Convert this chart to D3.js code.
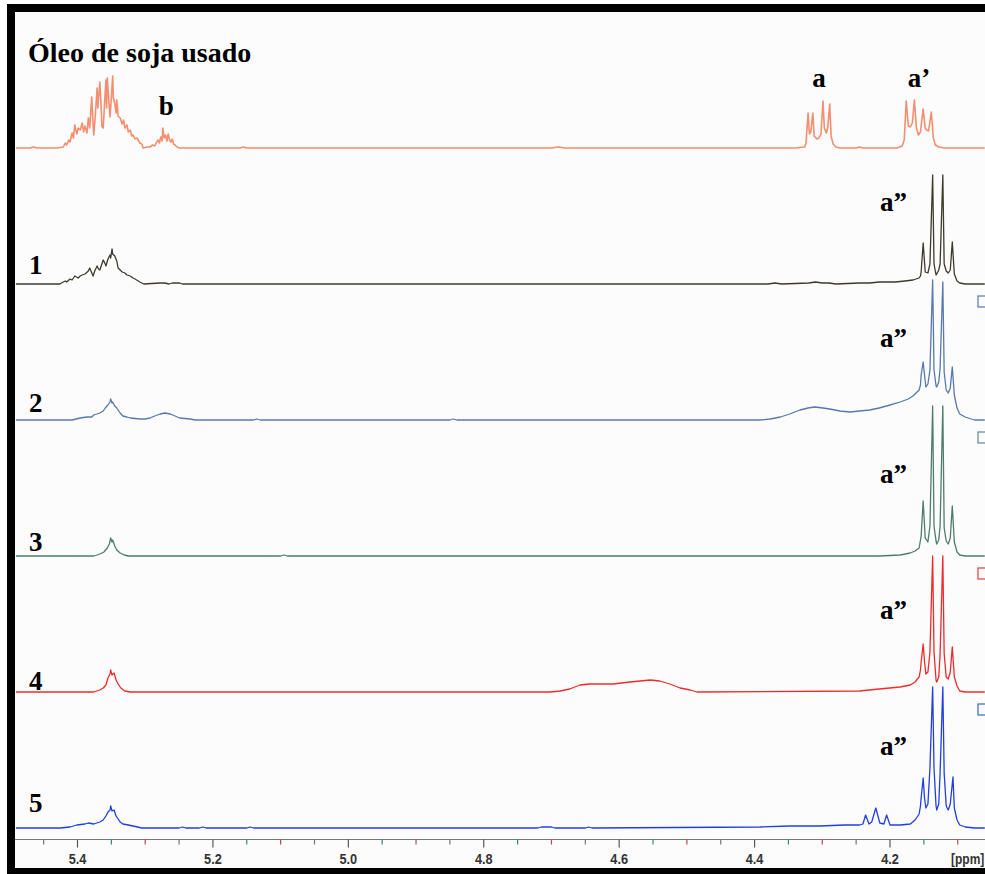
<!DOCTYPE html>
<html>
<head>
<meta charset="utf-8">
<script src="https://cdn.jsdelivr.net/npm/d3@7"></script>
<style>
  html, body { margin: 0; padding: 0; background: #ffffff; }
  svg { display: block; }
</style>
</head>
<body>
<svg id="chart" width="985" height="874"></svg>
<script>
// ---------------- DATA (ppm, relative intensity) ----------------
const traceNames = ["Óleo de soja usado", "1", "2", "3", "4", "5"];
const tickValues = [5.45,5.40,5.35,5.30,5.25,5.20,5.15,5.10,5.05,5.00,4.95,4.90,4.85,4.80,4.75,4.70,4.65,4.60,4.55,4.50,4.45,4.40,4.35,4.30,4.25,4.20,4.15,4.10];
const tickLabels = ["5.4", "5.2", "5.0", "4.8", "4.6", "4.4", "4.2"];
const tickLabelValues = [5.4, 5.2, 5.0, 4.8, 4.6, 4.4, 4.2];
const axisUnit = "[ppm]";

const oleoSpectrum = [
  [5.491,0],[5.470,0],[5.465,1],[5.460,0],[5.430,0],[5.421,1],[5.418,5],[5.416,3],[5.413,8],[5.411,6],[5.408,15],[5.406,10],
  [5.404,23],[5.401,14],[5.399,20],[5.396,18],[5.393,25],[5.391,16],[5.389,22],[5.386,15],[5.384,30],[5.382,20],
  [5.379,51],[5.377,24],[5.376,13],[5.374,30],[5.371,60],[5.370,40],[5.367,66],[5.365,40],[5.364,22],[5.362,20],
  [5.360,45],[5.358,68],[5.357,40],[5.356,70],[5.354,50],[5.352,31],[5.350,50],[5.348,72],[5.347,50],[5.345,45],
  [5.343,35],[5.342,48],[5.340,32],[5.337,30],[5.334,24],[5.332,28],[5.330,20],[5.327,23],[5.325,16],[5.322,18],
  [5.320,12],[5.318,13],[5.315,9],[5.312,10],[5.308,5],[5.305,4],[5.303,0],[5.297,1],[5.293,1],[5.289,3],[5.286,2],
  [5.283,6],[5.281,8],[5.279,5],[5.277,11],[5.275,7],[5.274,20],[5.272,10],[5.270,13],[5.268,7],[5.266,14],[5.264,8],
  [5.262,6],[5.260,9],[5.258,4],[5.256,3],[5.253,1],[5.249,0],[5.160,0],[5.155,1],[5.150,0],[4.700,0],[4.690,1],[4.680,0],
  [4.340,0],[4.326,1],[4.324,5],[4.321,35],[4.319,14],[4.317,16],[4.314,35],[4.312,12],[4.308,9],[4.305,10],[4.302,14],
  [4.299,47],[4.297,20],[4.294,15],[4.292,20],[4.289,44],[4.287,12],[4.284,4],[4.280,1],[4.274,0],[4.250,0],[4.245,1],[4.240,0],
  [4.190,0],[4.182,2],[4.179,8],[4.176,47],[4.173,22],[4.170,21],[4.167,25],[4.164,48],[4.161,20],[4.158,13],[4.155,16],
  [4.151,39],[4.148,20],[4.146,18],[4.143,17],[4.139,36],[4.136,10],[4.133,3],[4.128,1],[4.120,0],[4.060,0]
];

const spectrum1 = [
  [5.491,0],[5.426,0],[5.421,2],[5.418,3],[5.416,2],[5.411,5],[5.408,4],[5.404,8],[5.399,6],[5.396,8],[5.393,9],
  [5.389,10],[5.384,13],[5.382,16],[5.377,8],[5.374,14],[5.371,18],[5.369,15],[5.367,14],[5.362,24],[5.359,20],
  [5.358,18],[5.355,25],[5.352,29],[5.351,26],[5.349,35],[5.348,30],[5.345,28],[5.342,23],[5.340,16],[5.337,14],
  [5.334,12],[5.330,11],[5.327,9],[5.322,8],[5.318,6],[5.315,5],[5.308,2],[5.302,0],[5.278,1],[5.271,1],[5.265,0],
  [5.260,1],[5.249,1],[5.245,0],[4.380,0],[4.370,1],[4.360,0],[4.320,1],[4.310,2],[4.300,1],[4.290,1],[4.280,0],
  [4.245,1],[4.230,1],[4.216,2],[4.192,2],[4.178,3],[4.166,4],[4.157,6],[4.155,8],[4.154,12],[4.151,41],[4.148,12],
  [4.144,11],[4.141,20],[4.137,109],[4.135,20],[4.132,9],[4.131,10],[4.128,14],[4.126,20],[4.122,109],[4.120,20],
  [4.117,13],[4.114,11],[4.111,14],[4.108,42],[4.105,10],[4.101,3],[4.097,1],[4.089,0],[4.060,0]
];

const spectrum2 = [
  [5.491,0],[5.408,0],[5.396,2],[5.386,3],[5.379,3],[5.376,5],[5.367,7],[5.362,9],[5.359,12],[5.355,15],[5.352,18],
  [5.351,21],[5.349,17],[5.348,18],[5.345,14],[5.342,12],[5.337,7],[5.333,4],[5.327,3],[5.322,2],[5.308,1],[5.300,1],
  [5.293,2],[5.286,4],[5.278,6],[5.271,7],[5.263,6],[5.256,4],[5.249,2],[5.234,1],[5.226,0],[5.140,0],[5.135,1],[5.130,0],
  [4.850,0],[4.845,1],[4.840,0],[4.392,0],[4.377,1],[4.362,3],[4.348,6],[4.333,10],[4.321,12],[4.311,13],[4.299,12],
  [4.289,11],[4.274,9],[4.259,8],[4.245,9],[4.230,10],[4.216,12],[4.200,15],[4.185,18],[4.173,21],[4.166,24],
  [4.157,30],[4.155,35],[4.154,45],[4.151,58],[4.149,45],[4.147,33],[4.144,36],[4.141,50],[4.137,140],[4.135,50],
  [4.132,34],[4.131,33],[4.128,38],[4.126,52],[4.122,138],[4.120,48],[4.117,30],[4.114,27],[4.111,32],[4.108,53],
  [4.105,25],[4.101,12],[4.097,6],[4.089,3],[4.080,1],[4.075,0],[4.060,0]
];

const spectrum3 = [
  [5.491,0],[5.376,0],[5.367,2],[5.361,4],[5.356,8],[5.353,12],[5.351,18],[5.349,14],[5.348,16],[5.345,10],[5.342,6],
  [5.337,3],[5.331,1],[5.325,0],[5.100,0],[5.095,1],[5.090,0],[4.216,0],[4.185,1],[4.170,3],[4.163,5],[4.157,8],
  [4.154,20],[4.151,55],[4.148,18],[4.144,14],[4.141,30],[4.137,150],[4.135,30],[4.132,15],[4.131,12],[4.128,16],
  [4.126,30],[4.122,150],[4.120,28],[4.117,15],[4.114,12],[4.111,18],[4.108,50],[4.105,14],[4.101,4],[4.097,1],
  [4.089,0],[4.060,0]
];

const spectrum4 = [
  [5.491,0],[5.376,0],[5.367,2],[5.362,4],[5.358,7],[5.355,14],[5.352,18],[5.351,22],[5.349,17],[5.346,19],[5.343,12],
  [5.340,8],[5.336,4],[5.330,1],[5.322,0],[4.702,0],[4.687,1],[4.673,3],[4.658,7],[4.644,8],[4.609,8],[4.584,10],
  [4.554,12],[4.540,11],[4.525,8],[4.510,4],[4.495,2],[4.485,0],[4.245,1],[4.216,3],[4.185,5],[4.170,7],[4.163,10],
  [4.157,15],[4.155,22],[4.154,30],[4.151,48],[4.149,30],[4.147,18],[4.144,20],[4.141,40],[4.137,136],[4.135,40],
  [4.132,12],[4.131,10],[4.128,15],[4.126,38],[4.122,136],[4.120,38],[4.117,15],[4.114,13],[4.111,20],[4.108,45],
  [4.105,15],[4.101,6],[4.097,1],[4.089,0],[4.060,0]
];

const spectrum5 = [
  [5.491,0],[5.426,0],[5.411,1],[5.401,3],[5.389,4],[5.384,5],[5.376,4],[5.367,6],[5.362,8],[5.358,12],[5.355,16],
  [5.352,18],[5.351,22],[5.349,17],[5.346,18],[5.343,12],[5.340,9],[5.337,6],[5.333,4],[5.325,3],[5.318,2],[5.305,0],
  [5.250,0],[5.245,1],[5.240,0],[5.220,0],[5.215,1],[5.210,0],[5.150,0],[5.145,1],[5.140,0],[4.720,0],[4.715,1],
  [4.700,1],[4.695,0],[4.650,0],[4.645,1],[4.640,0],[4.392,1],[4.348,2],[4.304,2],[4.267,3],[4.245,3],[4.240,4],
  [4.236,13],[4.231,4],[4.227,6],[4.221,20],[4.215,5],[4.209,4],[4.205,13],[4.200,3],[4.185,3],[4.170,4],[4.163,8],
  [4.157,14],[4.155,22],[4.154,30],[4.151,50],[4.149,30],[4.147,20],[4.144,24],[4.141,60],[4.137,141],[4.135,60],
  [4.132,22],[4.131,18],[4.128,24],[4.126,55],[4.122,141],[4.120,55],[4.117,22],[4.114,18],[4.111,24],[4.107,51],
  [4.105,20],[4.101,8],[4.097,3],[4.089,1],[4.075,0],[4.060,0]
];

const traces = [oleoSpectrum, spectrum1, spectrum2, spectrum3, spectrum4, spectrum5];
const peakLabels = [
  { trace: 0, ppm: 5.269, text: "b" },
  { trace: 0, ppm: 4.305, text: "a" },
  { trace: 0, ppm: 4.157, text: "a’" },
  { trace: 1, ppm: 4.195, text: "a”" },
  { trace: 2, ppm: 4.195, text: "a”" },
  { trace: 3, ppm: 4.195, text: "a”" },
  { trace: 4, ppm: 4.195, text: "a”" },
  { trace: 5, ppm: 4.195, text: "a”" }
];

// ---------------- STYLE / LAYOUT ----------------
const colors = ["#f2825f", "#3e3a2c", "#5878b0", "#4e7d6d", "#f02a2a", "#1f3fe4"];
const widths = [1.6, 1.3, 1.3, 1.3, 1.3, 1.3];
const squareColors = [null, null, "#5878b0", "#5a8a96", "#e83a3a", "#3a66cc"];

const svg = d3.select("#chart");
const W = 985, H = 874;
const plot = { left: 15, top: 12, right: 985, bottom: 868 };

const x = d3.scaleLinear().domain([5.4, 4.2]).range([77.5, 890]);
const traceBase = d3.scaleLinear().domain([0, 5]).range([148, 828]);
const yInt = d3.scaleLinear().domain([0, 100]).range([0, -100]);

// outer frame
svg.append("rect").attr("x", 0).attr("y", 0).attr("width", W).attr("height", H).attr("fill", "#ffffff");
svg.append("rect").attr("x", 7).attr("y", 4).attr("width", W).attr("height", H).attr("fill", "#000");
svg.append("rect").attr("x", plot.left).attr("y", plot.top)
  .attr("width", plot.right - plot.left + 10).attr("height", plot.bottom - plot.top)
  .attr("fill", "#fcfcfc");

svg.append("defs").append("clipPath").attr("id", "clip")
  .append("rect").attr("x", plot.left).attr("y", plot.top)
  .attr("width", plot.right - plot.left).attr("height", plot.bottom - plot.top);

const g = svg.append("g").attr("clip-path", "url(#clip)");

// spectra
traces.forEach((data, i) => {
  const base = traceBase(i);
  const line = d3.line()
    .x(d => x(d[0]))
    .y(d => base + yInt(d[1]));
  g.append("path")
    .datum(data)
    .attr("d", line)
    .attr("fill", "none")
    .attr("stroke", colors[i])
    .attr("stroke-width", widths[i])
    .attr("stroke-linejoin", "round")
    .attr("opacity", i === 0 ? 0.9 : 1);
});

// small boxes at right edge
squareColors.forEach((c, i) => {
  if (!c) return;
  g.append("rect")
    .attr("x", 978).attr("y", traceBase(i) - 124)
    .attr("width", 12).attr("height", 11)
    .attr("fill", "none").attr("stroke", c).attr("stroke-width", 1.2);
});

// axis
const axisY = 839.5;
g.append("line").attr("x1", plot.left).attr("x2", plot.right)
  .attr("y1", axisY).attr("y2", axisY).attr("stroke", "#777").attr("stroke-width", 1.2);
const tickCols = ["#777", "#556", "#2e8a88", "#c04848"];
g.selectAll(".tick").data(tickValues).enter().append("line")
  .attr("x1", d => x(d)).attr("x2", d => x(d))
  .attr("y1", axisY)
  .attr("y2", d => tickLabelValues.some(v => Math.abs(v - d) < 1e-6) ? axisY + 8 : axisY + 5)
  .attr("stroke", (d, i) => tickCols[i % 4]).attr("stroke-width", 1.2);

const sansNarrow = "'Liberation Sans Narrow', 'Arial Narrow', 'Liberation Sans', sans-serif";
svg.selectAll(".tlabel").data(tickLabels).enter().append("text")
  .attr("transform", (d, i) => `translate(${x(tickLabelValues[i])},863.5) scale(0.85,1)`)
  .attr("text-anchor", "middle")
  .attr("font-family", sansNarrow)
  .attr("font-weight", "bold")
  .attr("font-size", 15)
  .attr("fill", "#333")
  .text(d => d);
svg.append("text")
  .attr("transform", "translate(951,863.5) scale(0.8,1)")
  .attr("font-family", sansNarrow)
  .attr("font-weight", "bold").attr("font-size", 15).attr("fill", "#333")
  .text(axisUnit);

// title & labels
const serif = "'Liberation Serif', 'Times New Roman', serif";
svg.append("text").attr("x", 28).attr("y", 62)
  .attr("font-family", serif).attr("font-weight", "bold").attr("font-size", 28)
  .attr("fill", "#000").text(traceNames[0]);

const numberBaselines = [0, 274, 412, 551, 690, 812];
traceNames.slice(1).forEach((name, k) => {
  svg.append("text").attr("x", 29).attr("y", numberBaselines[k + 1])
    .attr("font-family", serif).attr("font-weight", "bold").attr("font-size", 27)
    .attr("fill", "#000").text(name);
});

peakLabels.forEach(p => {
  const yy = p.trace === 0 ? (p.text === "b" ? 115 : 87) : traceBase(p.trace) - 73;
  svg.append("text")
    .attr("x", x(p.ppm)).attr("y", yy)
    .attr("text-anchor", "middle")
    .attr("font-family", serif).attr("font-weight", "bold").attr("font-size", 27)
    .attr("fill", "#000").text(p.text);
});
</script>
</body>
</html>
